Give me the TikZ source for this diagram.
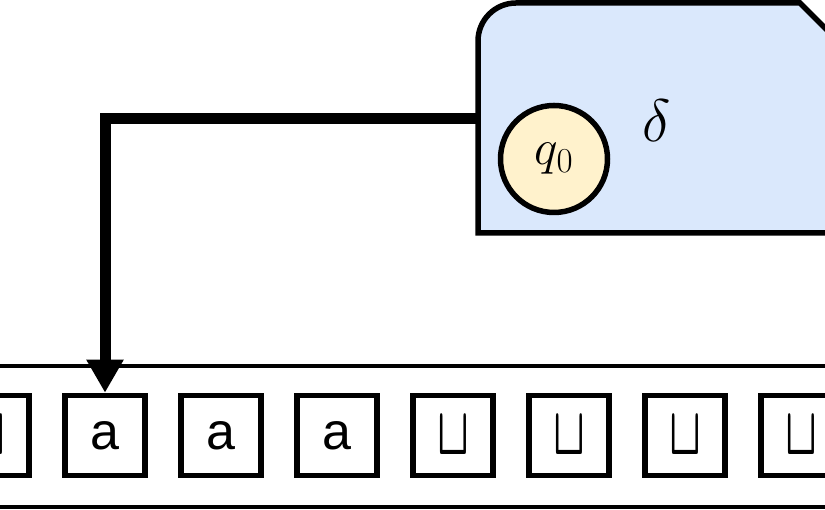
\RequirePackage{fix-cm}
\documentclass[tikz,border=0pt]{standalone}
\usepackage{amsfonts,amssymb,amsmath}
\usepackage{fontspec}
\newfontfamily\tapefont{Liberation Sans}
\usepackage{tikz}
\usetikzlibrary{arrows.meta}

\definecolor{machineblue}{HTML}{DAE8FC}
\definecolor{stateyellow}{HTML}{FFF2CC}
\newcommand{\tapeblank}{\scalebox{0.8}[1.3]{\boldmath$\sqcup$}}

\begin{document}
\begin{tikzpicture}[x=1pt, y=1pt, node distance=116pt,
		cell/.style={rectangle, draw, line width=5.5pt, minimum size=80pt, inner sep=0pt, font=\tapefont\fontsize{52}{60}\selectfont}]
		\path[use as bounding box, clip] (0,0) rectangle (825,510);

		% Machine
		\draw[line width=5.5pt, fill=machineblue] (478,277) -- (478,469) arc[start angle=180, end angle=90, radius=38] -- (800,507) -- (850,457) -- (850,277) -- cycle;
		\node (q0) [circle, draw, line width=5.5pt, fill=stateyellow, minimum size=107pt, inner sep=0pt, font=\fontsize{50}{56}\selectfont] at (554,351) {$q_0$};
		\node (delta) [font=\fontsize{60}{70}\selectfont] at (657,389) {$\delta$};
		\coordinate (port) at (478,391);

		% Tape
		\draw[line width=4.8pt] (-10,144) -- (835,144);
		\draw[line width=4.8pt] (-10,3) -- (835,3);

		% Cells
		\node (c1) [cell] at (-11,74.5) {\tapeblank};
		\node (c2) [cell, right of=c1] {a};
		\node (c3) [cell, right of=c2] {a};
		\node (c4) [cell, right of=c3] {a};
		\node (c5) [cell, right of=c4] {\tapeblank};
		\node (c6) [cell, right of=c5] {\tapeblank};
		\node (c7) [cell, right of=c6] {\tapeblank};
		\node (c8) [cell, right of=c7] {\tapeblank};

		% Head
		\draw[line width=11pt, -{Triangle[width=35pt, length=33pt]}] (port) -| (c2.north);
	\end{tikzpicture}
\end{document}
